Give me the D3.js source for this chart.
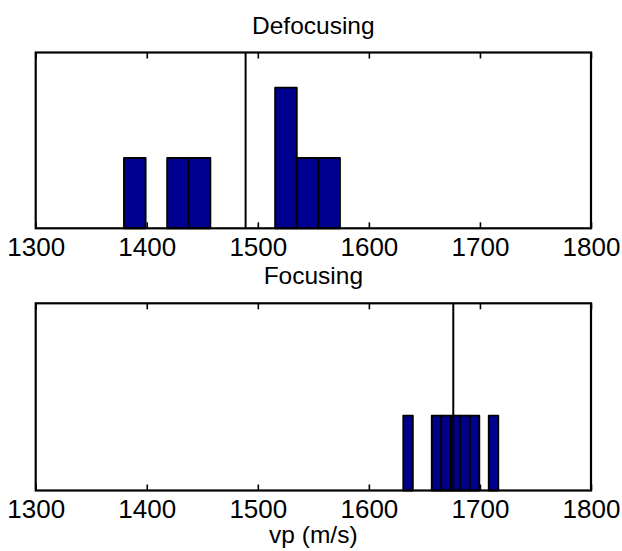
<!DOCTYPE html>
<html>
<head>
<meta charset="utf-8">
<script src="https://cdn.jsdelivr.net/npm/d3@7"></script>
<style>
  body { margin: 0; background: #fff; }
  svg { display: block; }
  text { font-family: "Liberation Sans", Arial, Helvetica, sans-serif; fill: #000; }
</style>
</head>
<body>
<script>
// Shared x ticks (velocity, m/s)
const xTicks = [1300, 1400, 1500, 1600, 1700, 1800];
const xDomain = [1300, 1800];
const yMax = 2.5;

// Defocusing histogram: left edge of each bin, common bin width, counts
const defocusBinStarts = [1379.5, 1398.9, 1418.4, 1437.8, 1457.3, 1476.7, 1496.2, 1515.6, 1535.1, 1554.5];
const defocusBinWidth = 19.45;
const defocusCounts = [1, 0, 1, 1, 0, 0, 0, 2, 1, 1];
const defocusMarker = 1489;

// Focusing histogram
const focusBinStarts = [1631.0, 1639.55, 1648.1, 1656.65, 1665.2, 1673.75, 1682.3, 1690.85, 1699.4, 1707.95];
const focusBinWidth = 8.55;
const focusCounts = [1, 0, 0, 1, 1, 1, 1, 1, 0, 1];
const focusMarker = 1676;

const panelTitles = ["Defocusing", "Focusing"];
const xLabel = "vp (m/s)";

const W = 622, H = 551;
const left = 35.7, right = 591;

const svg = d3.select("body").append("svg")
  .attr("width", W).attr("height", H);

const x = d3.scaleLinear().domain(xDomain).range([left, right]);

const panels = [
  { title: panelTitles[0], starts: defocusBinStarts, width: defocusBinWidth, counts: defocusCounts, marker: defocusMarker, top: 52.5, bottom: 228.3 },
  { title: panelTitles[1], starts: focusBinStarts, width: focusBinWidth, counts: focusCounts, marker: focusMarker, top: 303.3, bottom: 490.5 }
];

panels.forEach(p => {
  const y = d3.scaleLinear().domain([0, yMax]).range([p.bottom, p.top]);
  const g = svg.append("g");

  // bars
  const bins = p.starts.map((s, i) => ({ x0: s, x1: s + p.width, n: p.counts[i] }))
    .filter(b => b.n > 0);
  g.selectAll("rect.bar").data(bins).join("rect")
    .attr("class", "bar")
    .attr("x", d => x(d.x0))
    .attr("width", d => x(d.x1) - x(d.x0))
    .attr("y", d => y(d.n))
    .attr("height", d => y(0) - y(d.n))
    .attr("fill", "#00008f")
    .attr("stroke", "#000")
    .attr("stroke-width", 1.9)
    .attr("stroke-linejoin", "round");

  // reference velocity line
  g.append("line")
    .attr("x1", x(p.marker)).attr("x2", x(p.marker))
    .attr("y1", y(0)).attr("y2", y(yMax))
    .attr("stroke", "#000").attr("stroke-width", 2);

  // bottom axis with labels, inward ticks
  const bottomAxis = d3.axisBottom(x).tickValues(xTicks)
    .tickSizeInner(-6).tickSizeOuter(0).tickPadding(9)
    .tickFormat(d3.format("d"));
  const gb = g.append("g").attr("transform", `translate(0,${p.bottom})`).call(bottomAxis);
  gb.select(".domain").remove();
  gb.selectAll(".tick line").attr("stroke", "#000").attr("stroke-width", 1.6);
  gb.selectAll(".tick text").style("font-size", "26px").attr("fill", "#000");

  // top axis: ticks only
  const topAxis = d3.axisTop(x).tickValues(xTicks)
    .tickSizeInner(-6).tickSizeOuter(0).tickFormat("");
  const gt = g.append("g").attr("transform", `translate(0,${p.top})`).call(topAxis);
  gt.select(".domain").remove();
  gt.selectAll(".tick line").attr("stroke", "#000").attr("stroke-width", 1.6);

  // axes box
  g.append("rect")
    .attr("x", left).attr("y", p.top)
    .attr("width", right - left).attr("height", p.bottom - p.top)
    .attr("fill", "none").attr("stroke", "#000").attr("stroke-width", 2.2);

  // title
  g.append("text")
    .attr("x", (left + right) / 2).attr("y", p.top - 19)
    .attr("text-anchor", "middle")
    .style("font-size", "24.5px")
    .text(p.title);
});

svg.append("text")
  .attr("x", (left + right) / 2).attr("y", 543)
  .attr("text-anchor", "middle")
  .style("font-size", "24.5px")
  .text(xLabel);
</script>
</body>
</html>
